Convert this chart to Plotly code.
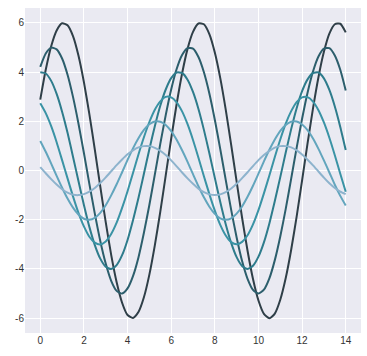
import plotly.graph_objects as go

x = [i * 0.25 for i in range(57)]  # 0 .. 14 step 0.25 (tick positions for samples)

amp6 = [2.88, 4.09, 5.05, 5.69, 5.98, 5.90, 5.46, 4.67, 3.59, 2.29, 0.85, -0.65, -2.10, -3.43, -4.54,
        -5.37, -5.87, -5.99, -5.75, -5.15, -4.23, -3.04, -1.68, -0.20, 1.29, 2.70, 3.94, 4.94, 5.63,
        5.97, 5.94, 5.54, 4.79, 3.75, 2.47, 1.04, -0.45, -1.92, -3.26, -4.41, -5.28, -5.82, -6.00,
        -5.81, -5.25, -4.37, -3.22, -1.87, -0.40, 1.10, 2.52, 3.79, 4.82, 5.56, 5.94, 5.96, 5.61]
amp5 = [4.21, 4.75, 4.99, 4.92, 4.55, 3.89, 2.99, 1.91, 0.71, -0.54, -1.75, -2.86, -3.78, -4.48, -4.89,
        -5.00, -4.79, -4.29, -3.53, -2.53, -1.40, -0.17, 1.08, 2.25, 3.29, 4.12, 4.69, 4.97, 4.95,
        4.61, 3.99, 3.13, 2.06, 0.87, -0.38, -1.60, -2.72, -3.68, -4.40, -4.85, -5.00, -4.84, -4.38,
        -3.64, -2.68, -1.56, -0.33, 0.92, 2.10, 3.16, 4.02, 4.63, 4.95, 4.97, 4.67, 4.09, 3.25]
amp4 = [3.99, 3.94, 3.64, 3.11, 2.39, 1.53, 0.56, -0.43, -1.40, -2.29, -3.03, -3.58, -3.91, -4.00, -3.84,
        -3.44, -2.82, -2.02, -1.12, -0.13, 0.86, 1.80, 2.63, 3.29, 3.75, 3.98, 3.96, 3.69, 3.19,
        2.50, 1.65, 0.70, -0.30, -1.28, -2.18, -2.94, -3.52, -3.88, -4.00, -3.87, -3.50, -2.92, -2.15,
        -1.24, -0.27, 0.73, 1.68, 2.53, 3.22, 3.70, 3.96, 3.98, 3.74, 3.27, 2.60, 1.77, 0.83]
amp3 = [2.73, 2.33, 1.80, 1.15, 0.42, -0.32, -1.05, -1.72, -2.27, -2.69, -2.93, -3.00, -2.88, -2.58, -2.12,
        -1.52, -0.84, -0.10, 0.65, 1.35, 1.97, 2.47, 2.81, 2.99, 2.97, 2.77, 2.40, 1.88, 1.24,
        0.52, -0.23, -0.96, -1.63, -2.21, -2.64, -2.91, -3.00, -2.90, -2.63, -2.19, -1.61, -0.93, -0.20,
        0.55, 1.26, 1.90, 2.41, 2.78, 2.97, 2.98, 2.80, 2.45, 1.95, 1.33, 0.62, -0.13, -0.86]
amp2 = [1.20, 0.76, 0.28, -0.22, -0.70, -1.14, -1.51, -1.79, -1.96, -2.00, -1.92, -1.72, -1.41, -1.01, -0.56,
        -0.07, 0.43, 0.90, 1.31, 1.65, 1.88, 1.99, 1.98, 1.85, 1.60, 1.25, 0.82, 0.35, -0.15,
        -0.64, -1.09, -1.47, -1.76, -1.94, -2.00, -1.94, -1.75, -1.46, -1.07, -0.62, -0.13, 0.37, 0.84,
        1.26, 1.61, 1.85, 1.98, 1.99, 1.87, 1.64, 1.30, 0.88, 0.41, -0.08, -0.58, -1.03, -1.42]
amp1 = [0.14, -0.11, -0.35, -0.57, -0.76, -0.90, -0.98, -1.00, -0.96, -0.86, -0.71, -0.51, -0.28, -0.03, 0.22,
        0.45, 0.66, 0.82, 0.94, 0.99, 0.99, 0.92, 0.80, 0.63, 0.41, 0.17, -0.08, -0.32, -0.54,
        -0.74, -0.88, -0.97, -1.00, -0.97, -0.88, -0.73, -0.54, -0.31, -0.07, 0.18, 0.42, 0.63, 0.80,
        0.93, 0.99, 0.99, 0.94, 0.82, 0.65, 0.44, 0.21, -0.04, -0.29, -0.52, -0.71, -0.86, -0.96]

series = [amp6, amp5, amp4, amp3, amp2, amp1]
colors = ["#2f3f48", "#2c5e6c", "#2e7c8c", "#3a93a5", "#62a5bd", "#8db3cd"]
for s in series:
    assert len(s) == len(x), len(s)

xticks = [0, 2, 4, 6, 8, 10, 12, 14]
yticks = [-6, -4, -2, 0, 2, 4, 6]

fig = go.Figure()
for ys, c in zip(series, colors):
    fig.add_trace(go.Scatter(x=x, y=ys, mode="lines",
                             line=dict(color=c, width=2, shape="spline", smoothing=0.6),
                             showlegend=False, hoverinfo="skip"))

axis_common = dict(showgrid=True, gridcolor="white", gridwidth=1, zeroline=False,
                   showline=False, ticks="",
                   tickfont=dict(family="Liberation Sans, Arial, sans-serif", size=10, color="#333333"))
fig.update_xaxes(range=[-0.7, 14.7], tickvals=xticks, ticktext=[str(v) for v in xticks], **axis_common)
fig.update_yaxes(range=[-6.6, 6.6], tickvals=yticks, ticktext=[str(v) for v in yticks], **axis_common)

fig.update_layout(width=367, height=356, margin=dict(l=25, r=6, t=8, b=23),
                  plot_bgcolor="#eaeaf2", paper_bgcolor="white")
fig.write_html("out.html")
